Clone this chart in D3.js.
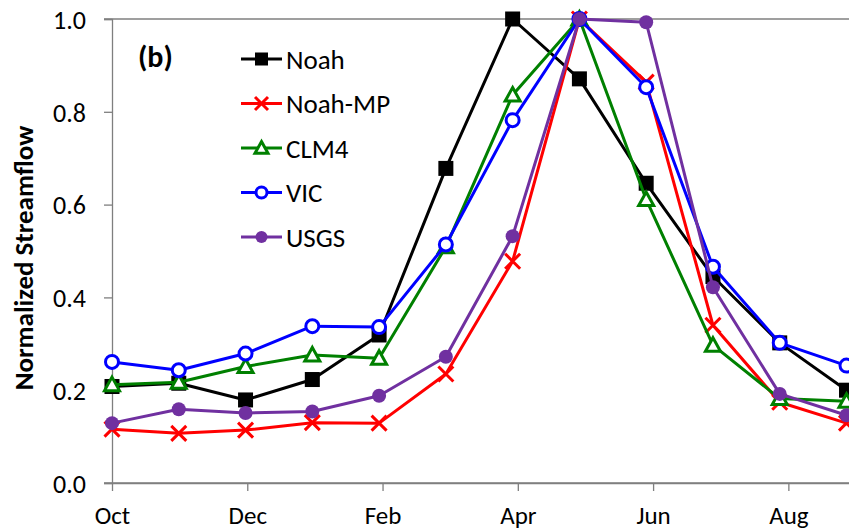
<!DOCTYPE html>
<html>
<head>
<meta charset="utf-8">
<script src="https://cdn.jsdelivr.net/npm/d3@7"></script>
<style>
  body { margin: 0; background: #fff; }
  svg { display: block; font-family: Carlito, Calibri, Lato, sans-serif; }
</style>
</head>
<body>
<svg width="849" height="532"></svg>
<script>
// data
const months = ["Oct", "Nov", "Dec", "Jan", "Feb", "Mar", "Apr", "May", "Jun", "Jul", "Aug", "Sep"];
const tickMonths = ["Oct", "Dec", "Feb", "Apr", "Jun", "Aug"];
const yTicks = [0, 0.2, 0.4, 0.6, 0.8, 1.0];

const noah = [0.208, 0.215, 0.179, 0.223, 0.319, 0.678, 1.0, 0.871, 0.646, 0.445, 0.302, 0.200];
const noahMP = [0.116, 0.107, 0.114, 0.130, 0.129, 0.235, 0.478, 1.0, 0.864, 0.340, 0.174, 0.129];
const clm4 = [0.212, 0.217, 0.251, 0.276, 0.269, 0.509, 0.836, 1.0, 0.611, 0.297, 0.182, 0.176];
const vic = [0.261, 0.243, 0.279, 0.338, 0.336, 0.514, 0.782, 1.0, 0.853, 0.466, 0.302, 0.253];
const usgs = [0.129, 0.159, 0.151, 0.154, 0.188, 0.272, 0.532, 1.0, 0.993, 0.422, 0.192, 0.146];

const seriesNames = ["Noah", "Noah-MP", "CLM4", "VIC", "USGS"];
const seriesValues = [noah, noahMP, clm4, vic, usgs];
const seriesColors = ["#000000", "#ff0000", "#008000", "#0000ff", "#7030a0"];
const seriesMarkers = ["square", "cross", "triangle", "circle", "dot"];

const svg = d3.select("svg");
const axisColor = "#7f7f7f";

// scales (points and tick marks are a little apart in the original)
const xScale = d3.scalePoint().domain(months).range([112, 846.5]);
const xTickScale = d3.scalePoint().domain(months).range([112, 856]);
const yScale = d3.scaleLinear().domain([0, 1]).range([483, 19]);

// top border of plot
svg.append("line")
    .attr("x1", 104).attr("x2", 849)
    .attr("y1", yScale(1)).attr("y2", yScale(1))
    .attr("stroke", axisColor).attr("stroke-width", 1.3);

// y axis
const yAxis = svg.append("g")
    .attr("transform", "translate(112,0)")
    .call(d3.axisLeft(yScale).tickValues(yTicks).tickFormat(d3.format(".1f")).tickSize(8).tickPadding(18));

// x axis
const xAxis = svg.append("g")
    .attr("transform", "translate(0,483)")
    .call(d3.axisBottom(xTickScale).tickValues(tickMonths).tickSize(8).tickPadding(15).tickSizeOuter(0));

svg.append("line")
    .attr("x1", 104).attr("x2", 849)
    .attr("y1", 483).attr("y2", 483)
    .attr("stroke", axisColor).attr("stroke-width", 1.3);

[yAxis, xAxis].forEach(function(g) {
    g.select(".domain").attr("stroke", axisColor).attr("stroke-width", 1.3);
    g.selectAll(".tick line").attr("stroke", axisColor).attr("stroke-width", 1.3);
    g.selectAll(".tick text")
        .attr("fill", "#000")
        .style("font-size", "25px")
        .style("font-family", "Carlito, Calibri, Lato, sans-serif");
});
yAxis.selectAll(".tick text").attr("dy", "0.36em").style("font-size", "26px");

// y axis title
svg.append("text")
    .attr("transform", "translate(33,258) rotate(-90)")
    .attr("text-anchor", "middle")
    .style("font-size", "27px")
    .style("font-weight", "bold")
    .text("Normalized Streamflow");

// panel label
svg.append("text")
    .attr("x", 138).attr("y", 67)
    .style("font-size", "30px")
    .style("font-weight", "bold")
    .text("(b)");

// marker drawing
function drawMarker(g, type, color, size) {
    if (type === "square") {
        g.append("rect")
            .attr("x", -size / 2).attr("y", -size / 2)
            .attr("width", size).attr("height", size)
            .attr("fill", color);
    } else if (type === "cross") {
        const h = size / 2;
        g.append("path")
            .attr("d", "M" + (-h) + "," + (-h) + "L" + h + "," + h + "M" + (-h) + "," + h + "L" + h + "," + (-h))
            .attr("stroke", color).attr("stroke-width", 3).attr("fill", "none");
    } else if (type === "triangle") {
        const h = size / 2;
        g.append("path")
            .attr("d", "M0," + (-h) + "L" + h + "," + (h * 0.8) + "L" + (-h) + "," + (h * 0.8) + "Z")
            .attr("stroke", color).attr("stroke-width", 3).attr("fill", "#fff");
    } else if (type === "circle") {
        g.append("circle")
            .attr("r", size / 2 - 1)
            .attr("stroke", color).attr("stroke-width", 3).attr("fill", "#fff");
    } else if (type === "dot") {
        g.append("circle")
            .attr("r", size / 2 - 0.5)
            .attr("fill", color);
    }
}

const line = d3.line()
    .x(function(d, i) { return xScale(months[i]); })
    .y(function(d) { return yScale(d); });

// draw series
seriesValues.forEach(function(values, s) {
    const g = svg.append("g");
    g.append("path")
        .datum(values)
        .attr("d", line)
        .attr("fill", "none")
        .attr("stroke", seriesColors[s])
        .attr("stroke-width", 3)
        .attr("stroke-linejoin", "round");
    g.selectAll(".pt")
        .data(values)
        .enter()
        .append("g")
        .attr("transform", function(d, i) {
            return "translate(" + xScale(months[i]) + "," + yScale(d) + ")";
        })
        .each(function() {
            drawMarker(d3.select(this), seriesMarkers[s], seriesColors[s], 15);
        });
});

// legend
const legend = svg.append("g");
seriesNames.forEach(function(name, s) {
    const y = 59 + s * 44.5;
    legend.append("line")
        .attr("x1", 241).attr("x2", 282)
        .attr("y1", y).attr("y2", y)
        .attr("stroke", seriesColors[s]).attr("stroke-width", 3);
    const m = legend.append("g").attr("transform", "translate(261.5," + y + ")");
    drawMarker(m, seriesMarkers[s], seriesColors[s], 13);
    legend.append("text")
        .attr("x", 286).attr("y", y)
        .attr("dy", "0.36em")
        .style("font-size", "27px")
        .text(name);
});
</script>
</body>
</html>
